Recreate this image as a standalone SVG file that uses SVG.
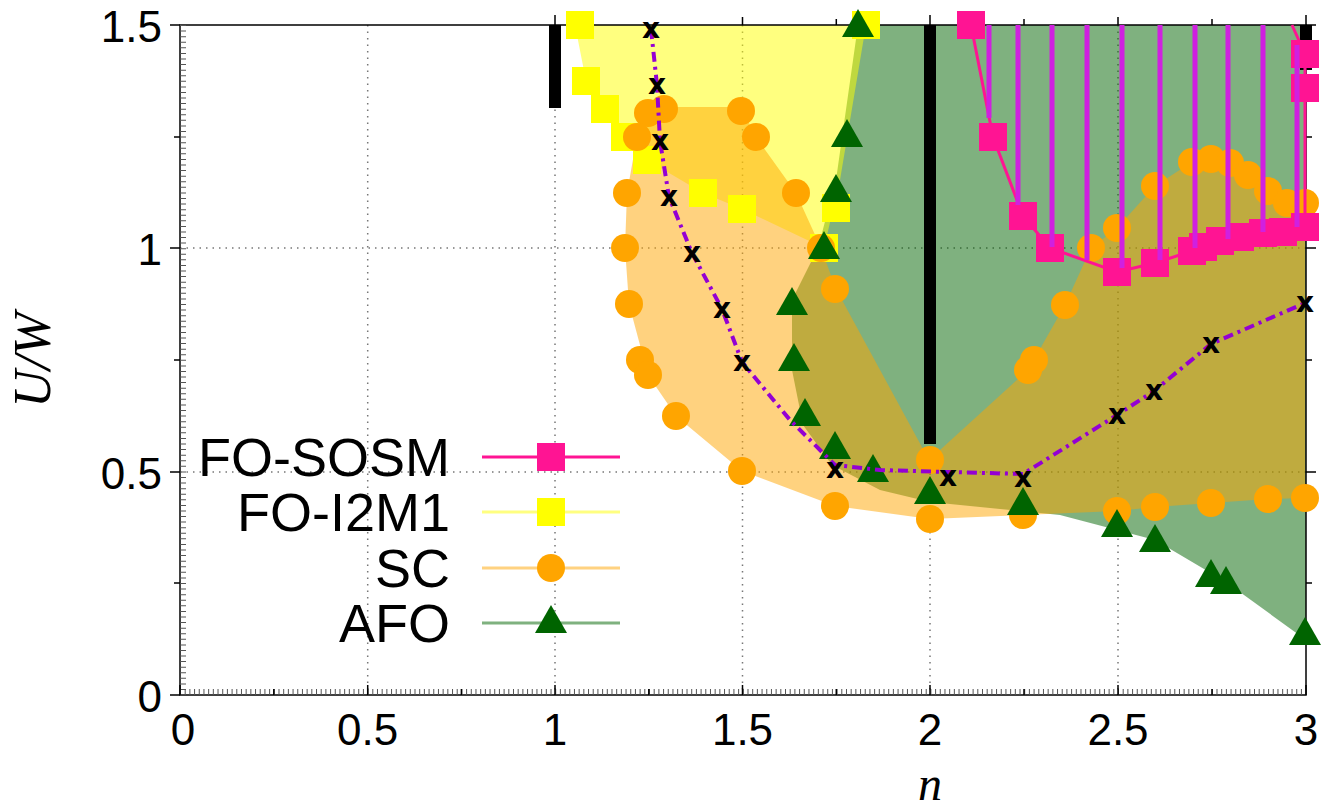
<svg xmlns="http://www.w3.org/2000/svg" width="1335" height="808" viewBox="0 0 1335 808">
<style>
.t{font-family:"Liberation Sans",Arial,sans-serif;font-size:44px;fill:#000}
.lg{font-family:"Liberation Sans",Arial,sans-serif;font-size:54px;fill:#000;text-anchor:end}
.grid{stroke:#777;stroke-width:1.5;stroke-dasharray:1.5 5}
.ys{fill:#ffff00}
.oc{fill:#ffa500}
.gt{fill:#006400}
.pv{stroke:#d020e0;stroke-width:5}
.xm{font-family:"DejaVu Sans",sans-serif;font-size:28px;font-weight:bold;text-anchor:middle;fill:#000}
</style>
<defs>
<rect id="s" x="-14" y="-14" width="28" height="28"/>
<circle id="c" r="14"/>
<path id="tr" d="M0,-16 L16,12 L-16,12 Z"/>
</defs>
<rect width="1335" height="808" fill="#fff"/>
<g id="grid">
<line class="grid" x1="367.7" y1="25" x2="367.7" y2="695"/>
<line class="grid" x1="555" y1="25" x2="555" y2="695"/>
<line class="grid" x1="742.5" y1="25" x2="742.5" y2="695"/>
<line class="grid" x1="930" y1="25" x2="930" y2="695"/>
<line class="grid" x1="1118" y1="25" x2="1118" y2="695"/>
<line class="grid" x1="180" y1="248" x2="1306" y2="248"/>
<line class="grid" x1="180" y1="472" x2="1306" y2="472"/>
</g>
<g id="regions">
<polygon fill="#006400" fill-opacity="0.5" points="858,25 1306,25 1306,640 1226,582 1155,540 1060,515 930,502 880,490 832,465 803,425 792,370 792,300 818,248 836,180"/>
<polygon fill="#ffff00" fill-opacity="0.5" points="575,25 866,25 840,180 824,248 742,209 703,193 647,160 625,137 605,109 586,81"/>
<polygon fill="#ffa500" fill-opacity="0.5" points="648,107 741,107 756,137 796,193 821,248 836,289 929,460 1028,370 1065,305 1091,248 1117,228 1155,186 1192,162 1211,159 1230,163 1268,191 1305,203 1305,498 1268,499 1211,503 1155,507 1117,511 1023,515 930,519 835,506 742,471 676,416 648,375 629,304 625,248 627,193 637,137"/>
</g>
<g id="axes">
<rect x="180" y="25" width="1126" height="670" fill="none" stroke="#000" stroke-width="1.5"/>
<line x1="180" y1="692" x2="1306" y2="692" stroke="#555" stroke-width="6" stroke-dasharray="1 3.69"/>
<line x1="183" y1="25" x2="183" y2="695" stroke="#555" stroke-width="6" stroke-dasharray="1 4.58"/>
<path stroke="#000" stroke-width="1.5" d="M180,695v-10M367.7,695v-10M555,695v-10M742.5,695v-10M930,695v-10M1118,695v-10M1306,695v-10M273.8,695v-6M461.4,695v-6M648.8,695v-6M836.3,695v-6M1024,695v-6M1212,695v-6
M555,25v-10M930,25v-10M1306,25v-10M742.5,25v-8M1118,25v-8M836.3,25v-6M1024,25v-6M1212,25v-6
M170,695h10M170,472h10M170,248h10M170,25h10M1306,472h10M1306,248h10M1306,25h10M1306,360h6M1306,137h6M1306,583h6M174,583h6M174,360h6M174,137h6"/>
</g>
<g id="ticklabels" class="t">
<text x="162" y="712" text-anchor="end">0</text>
<text x="162" y="489" text-anchor="end">0.5</text>
<text x="162" y="265" text-anchor="end">1</text>
<text x="162" y="42" text-anchor="end">1.5</text>
<text x="183" y="745" text-anchor="middle">0</text>
<text x="367.7" y="745" text-anchor="middle">0.5</text>
<text x="555" y="745" text-anchor="middle">1</text>
<text x="742.5" y="745" text-anchor="middle">1.5</text>
<text x="930" y="745" text-anchor="middle">2</text>
<text x="1118" y="745" text-anchor="middle">2.5</text>
<text x="1306" y="745" text-anchor="middle">3</text>
</g>
<text x="930" y="800" font-family="Liberation Serif,serif" font-style="italic" font-size="48" text-anchor="middle">n</text>
<text transform="translate(50,360) rotate(-90)" font-family="Liberation Serif,serif" font-style="italic" font-size="52" text-anchor="middle">U/W</text>
<g id="bars" fill="#000">
<rect x="549" y="25" width="12" height="83"/>
<rect x="924" y="25" width="12" height="419"/>
<rect x="1300" y="25" width="12" height="45"/>
</g>
<g id="yellow" class="ys">
<use href="#s" x="580" y="25"/><use href="#s" x="586" y="81"/><use href="#s" x="605" y="109"/><use href="#s" x="625" y="137"/><use href="#s" x="647" y="160"/><use href="#s" x="703" y="193"/><use href="#s" x="742" y="209"/><use href="#s" x="836" y="208"/><use href="#s" x="824" y="248"/><use href="#s" x="866" y="25"/>
</g>
<g id="orange" class="oc">
<use href="#c" x="648" y="113"/><use href="#c" x="664" y="109"/><use href="#c" x="637" y="137"/><use href="#c" x="627" y="193"/><use href="#c" x="625" y="248"/><use href="#c" x="629" y="304"/><use href="#c" x="640" y="360"/><use href="#c" x="648" y="375"/><use href="#c" x="676" y="416"/><use href="#c" x="742" y="471"/><use href="#c" x="835" y="506"/><use href="#c" x="741" y="111"/><use href="#c" x="756" y="137"/><use href="#c" x="796" y="193"/><use href="#c" x="821" y="248"/><use href="#c" x="835" y="289"/><use href="#c" x="930" y="460"/><use href="#c" x="930" y="519"/><use href="#c" x="1023" y="515"/><use href="#c" x="1028" y="370"/><use href="#c" x="1034" y="360"/><use href="#c" x="1065" y="305"/><use href="#c" x="1117" y="511"/><use href="#c" x="1155" y="507"/><use href="#c" x="1211" y="503"/><use href="#c" x="1268" y="499"/><use href="#c" x="1305" y="498"/><use href="#c" x="1091" y="248"/><use href="#c" x="1117" y="228"/><use href="#c" x="1155" y="186"/><use href="#c" x="1192" y="162"/><use href="#c" x="1211" y="159"/><use href="#c" x="1230" y="163"/><use href="#c" x="1248" y="175"/><use href="#c" x="1268" y="191"/><use href="#c" x="1287" y="203"/><use href="#c" x="1305" y="203"/>
</g>
<g id="green" class="gt">
<use href="#tr" x="858" y="25"/><use href="#tr" x="847" y="135"/><use href="#tr" x="836" y="190"/><use href="#tr" x="824" y="247"/><use href="#tr" x="792" y="303"/><use href="#tr" x="794" y="359"/><use href="#tr" x="805" y="414"/><use href="#tr" x="835" y="447"/><use href="#tr" x="873" y="470"/><use href="#tr" x="930" y="492"/><use href="#tr" x="1023" y="503"/><use href="#tr" x="1117" y="525"/><use href="#tr" x="1155" y="540"/><use href="#tr" x="1211" y="575"/><use href="#tr" x="1226" y="582"/><use href="#tr" x="1305" y="633"/>
</g>
<g id="connectors">
<polyline fill="none" stroke="#ff1493" stroke-width="3" points="971,25 993,137 1023,216 1050,248 1117,272 1155,263 1192,251 1203,247 1220,241 1240,237 1263,233 1283,232 1305,227"/>
<polyline fill="none" stroke="#ff1493" stroke-width="3" points="1292,25 1305,54 1305,227"/>
<polyline fill="none" stroke="#9400d3" stroke-width="4" stroke-dasharray="10 5 3 5" points="651,29 657,85 660,141 669,197 692,253 722,309 742,362 790,420 835,465 880,470 948,472 1023,474 1117,415 1154,391 1211,344 1305,303"/>
</g>
<g id="pink" fill="#ff1493">
<use href="#s" x="971" y="25"/><use href="#s" x="993" y="137"/><use href="#s" x="1023" y="216"/><use href="#s" x="1050" y="248"/><use href="#s" x="1117" y="272"/><use href="#s" x="1155" y="263"/><use href="#s" x="1192" y="251"/><use href="#s" x="1203" y="247"/><use href="#s" x="1220" y="241"/><use href="#s" x="1240" y="237"/><use href="#s" x="1263" y="233"/><use href="#s" x="1283" y="232"/><use href="#s" x="1305" y="227"/><use href="#s" x="1305" y="54"/><use href="#s" x="1305" y="88"/>
</g>
<g id="purple-lines">
<line class="pv" x1="989" y1="25" x2="989" y2="118"/>
<line class="pv" x1="1018" y1="25" x2="1018" y2="205"/>
<line class="pv" x1="1052" y1="25" x2="1052" y2="247"/>
<line class="pv" x1="1087" y1="25" x2="1087" y2="260"/>
<line class="pv" x1="1122" y1="25" x2="1122" y2="268"/>
<line class="pv" x1="1160" y1="25" x2="1160" y2="260"/>
<line class="pv" x1="1195" y1="25" x2="1195" y2="248"/>
<line class="pv" x1="1228" y1="25" x2="1228" y2="239"/>
<line class="pv" x1="1263" y1="25" x2="1263" y2="232"/>
<line class="pv" x1="1297" y1="45" x2="1297" y2="227"/>
</g>
<g id="xmarks" class="xm">
<text x="651" y="38">x</text><text x="657" y="94">x</text><text x="660" y="150">x</text><text x="669" y="206">x</text><text x="692" y="262">x</text><text x="722" y="318">x</text><text x="742" y="371">x</text><text x="835" y="478">x</text><text x="948" y="486">x</text><text x="1023" y="487">x</text><text x="1117" y="424">x</text><text x="1154" y="400">x</text><text x="1211" y="353">x</text><text x="1305" y="312">x</text>
</g>
<g id="legend">
<text class="lg" x="450" y="476">FO-SOSM</text>
<text class="lg" x="450" y="531">FO-I2M1</text>
<text class="lg" x="450" y="587">SC</text>
<text class="lg" x="450" y="642">AFO</text>
<line x1="482" y1="457" x2="620" y2="457" stroke="#ff1493" stroke-width="3"/>
<line x1="482" y1="512" x2="620" y2="512" stroke="#ffff80" stroke-width="3"/>
<line x1="482" y1="568" x2="620" y2="568" stroke="#ffd280" stroke-width="3"/>
<line x1="482" y1="623" x2="620" y2="623" stroke="#7fb17f" stroke-width="3"/>
<use href="#s" x="551" y="457" fill="#ff1493"/>
<use href="#s" x="551" y="512" fill="#ffff00"/>
<use href="#c" x="551" y="568" fill="#ffa500"/>
<use href="#tr" x="551" y="621" fill="#006400"/>
</g>
</svg>
